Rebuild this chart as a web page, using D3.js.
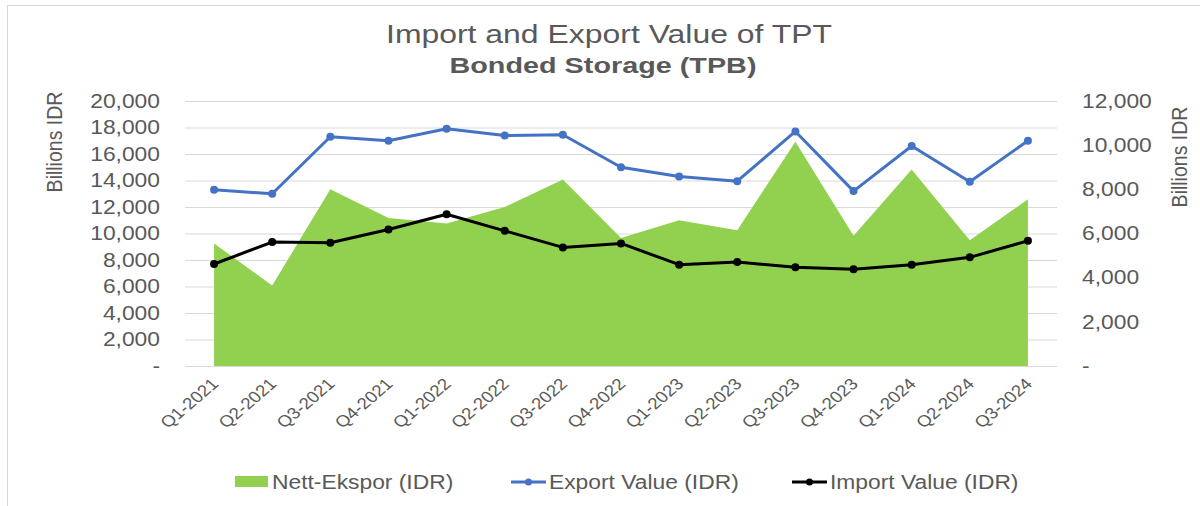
<!DOCTYPE html>
<html>
<head>
<meta charset="utf-8">
<script src="https://cdn.jsdelivr.net/npm/d3@7"></script>
<style>
  body { margin: 0; background: #fff; }
  text { font-family: "Liberation Sans", Arial, sans-serif; fill: #595959; }
</style>
</head>
<body>
<div class="canvas"></div>
<script>
// data (billions IDR)
const quarters = ['Q1-2021','Q2-2021','Q3-2021','Q4-2021','Q1-2022','Q2-2022','Q3-2022','Q4-2022',
  'Q1-2023','Q2-2023','Q3-2023','Q4-2023','Q1-2024','Q2-2024','Q3-2024'];
const exportValue = [13300,13000,17300,17000,17900,17400,17450,15000,14300,13950,17700,13200,16600,13900,17000];
const importValue = [7700,9350,9300,10300,11450,10200,8950,9250,7650,7850,7450,7300,7650,8200,9450];
const nettEkspor = [5550,3650,8000,6700,6450,7200,8450,5800,6600,6150,10150,5900,8900,5700,7550];
const leftTicks = [0,2000,4000,6000,8000,10000,12000,14000,16000,18000,20000];
const rightTicks = [0,2000,4000,6000,8000,10000,12000];
const seriesNames = ['Nett-Ekspor (IDR)','Export Value (IDR)','Import Value (IDR)'];

const dims = {width: 1200, height: 506};
const plot = {left: 185, right: 1057, top: 101, bottom: 366};
const SX = 1.17; // text in the picture is stretched sideways
const green = '#92d050', blue = '#4472c4', grid = '#d9d9d9';

const svg = d3.select('.canvas')
    .append('svg')
    .attr('width', dims.width)
    .attr('height', dims.height);

// chart border
svg.append('rect')
    .attr('x', 7.5).attr('y', 5.5)
    .attr('width', 1200).attr('height', 520)
    .attr('fill', 'none').attr('stroke', grid);

const x = d3.scalePoint().domain(quarters).range([plot.left, plot.right]).padding(0.5);
const yL = d3.scaleLinear().domain([0, 20000]).range([plot.bottom, plot.top]);
const yR = d3.scaleLinear().domain([0, 12000]).range([plot.bottom, plot.top]);
const fmt = d => d === 0 ? '-' : d3.format(',')(d);

// gridlines
svg.append('g')
  .selectAll('line')
  .data(leftTicks)
  .enter().append('line')
    .attr('x1', plot.left).attr('x2', plot.right)
    .attr('y1', d => yL(d) + 0.5).attr('y2', d => yL(d) + 0.5)
    .attr('stroke', grid).attr('stroke-width', 1);

// area on secondary axis
const area = d3.area()
    .x((d, i) => x(quarters[i]))
    .y0(yR(0))
    .y1(d => yR(d));
svg.append('path')
    .datum(nettEkspor)
    .attr('d', area)
    .attr('fill', green);

// lines on primary axis
const drawLine = (vals, colour) => {
    const line = d3.line().x((d, i) => x(quarters[i])).y(d => yL(d));
    svg.append('path').datum(vals)
        .attr('d', line)
        .attr('fill', 'none')
        .attr('stroke', colour)
        .attr('stroke-width', 3)
        .attr('stroke-linejoin', 'round');
    svg.append('g').selectAll('circle')
        .data(vals)
        .enter().append('circle')
        .attr('cx', (d, i) => x(quarters[i]))
        .attr('cy', d => yL(d))
        .attr('r', 4)
        .attr('fill', colour);
};
drawLine(exportValue, blue);
drawLine(importValue, '#000');

// axes
const leftAxis = svg.append('g')
    .attr('transform', `translate(${plot.left},0)`)
    .call(d3.axisLeft(yL).tickValues(leftTicks).tickFormat(fmt).tickSize(0));
leftAxis.select('.domain').remove();
leftAxis.selectAll('text')
    .attr('font-size', 19.5)
    .attr('font-family', null)
    .attr('x', -25 / SX)
    .attr('transform', `scale(${SX},1)`);

const rightAxis = svg.append('g')
    .attr('transform', `translate(${plot.right},0)`)
    .call(d3.axisRight(yR).tickValues(rightTicks).tickFormat(fmt).tickSize(0));
rightAxis.select('.domain').remove();
rightAxis.selectAll('text')
    .attr('font-size', 19.5)
    .attr('font-family', null)
    .attr('x', 25 / SX)
    .attr('transform', `scale(${SX},1)`);

const bottomAxis = svg.append('g')
    .attr('transform', `translate(0,${plot.bottom})`)
    .call(d3.axisBottom(x).tickSize(0));
bottomAxis.select('.domain').remove();
bottomAxis.selectAll('text')
    .attr('font-size', 16)
    .attr('font-family', null)
    .attr('text-anchor', 'end')
    .attr('x', null).attr('y', null).attr('dy', null)
    .attr('transform', `translate(5,19) scale(${SX},1) rotate(-45)`);

// helper for stretched text
const label = (px, py, str, size, opts = {}) => {
    const g = svg.append('g').attr('transform', `translate(${px},${py}) scale(${SX},1)${opts.rotate ? ` rotate(${opts.rotate})` : ''}`);
    const t = g.append('text')
        .attr('font-size', size)
        .attr('text-anchor', opts.anchor || 'start')
        .attr('font-weight', opts.bold ? 'bold' : null)
        .text(str);
    if (opts.len) t.attr('textLength', opts.len / SX).attr('lengthAdjust', 'spacingAndGlyphs');
    return t;
};

// titles
label(609, 43, 'Import and Export Value of TPT', 26, {anchor: 'middle', len: 446});
label(603, 73, 'Bonded Storage (TPB)', 22, {anchor: 'middle', bold: true, len: 307});
label(62, 142, 'Billions IDR', 19.5, {anchor: 'middle', rotate: -90});
label(1187, 157, 'Billions IDR', 19.5, {anchor: 'middle', rotate: -90});

// legend
const legY = 482;
svg.append('rect')
    .attr('x', 235).attr('y', legY - 6)
    .attr('width', 33).attr('height', 11)
    .attr('fill', green);
label(272, legY + 7, seriesNames[0], 19.5);

const legendLine = (x0, colour, name) => {
    svg.append('line')
        .attr('x1', x0).attr('x2', x0 + 35)
        .attr('y1', legY).attr('y2', legY)
        .attr('stroke', colour).attr('stroke-width', 3);
    svg.append('circle')
        .attr('cx', x0 + 17.5).attr('cy', legY)
        .attr('r', 3.5).attr('fill', colour);
    label(x0 + 38, legY + 7, name, 19.5);
};
legendLine(511, blue, seriesNames[1]);
legendLine(792, '#000', seriesNames[2]);
</script>
</body>
</html>
